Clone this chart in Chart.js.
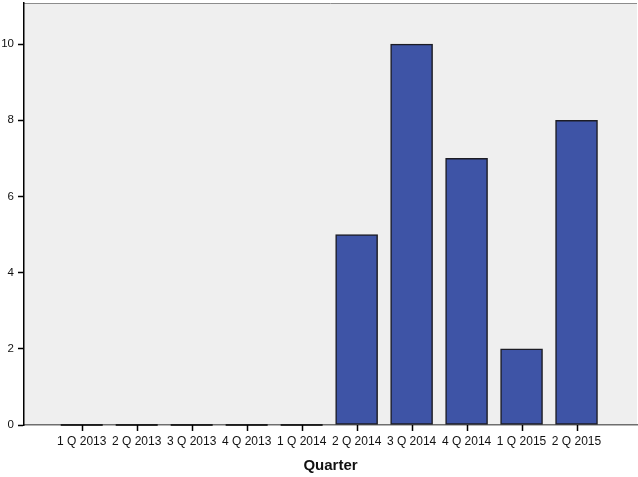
<!DOCTYPE html>
<html>
<head>
<meta charset="utf-8">
<script src="https://cdn.jsdelivr.net/npm/chart.js@4"></script>
<style>
  html, body { margin: 0; padding: 0; background: #fff; }
  #wrap { width: 638px; height: 477px; }
</style>
</head>
<body>
<div id="wrap"><canvas id="barChart"></canvas></div>
<script>
const categories = ['1 Q 2013', '2 Q 2013', '3 Q 2013', '4 Q 2013', '1 Q 2014',
                    '2 Q 2014', '3 Q 2014', '4 Q 2014', '1 Q 2015', '2 Q 2015'];
const counts = [0, 0, 0, 0, 0, 5, 10, 7, 2, 8];
const yTicks = [0, 2, 4, 6, 8, 10];

// fond gris + trait du haut, comme dans SPSS
const plotFrame = {
    id: 'plotFrame',
    beforeDraw(chart) {
        const {ctx, chartArea: a} = chart;
        ctx.save();
        ctx.fillStyle = '#efefef';
        ctx.fillRect(a.left, a.top, a.right - a.left, a.bottom - a.top);
        ctx.strokeStyle = '#8c8c8c';
        ctx.lineWidth = 1;
        ctx.beginPath();
        ctx.moveTo(a.left, a.top + 0.5);
        ctx.lineTo(a.right, a.top + 0.5);
        ctx.stroke();
        ctx.restore();
    },
    afterDraw(chart) {
        const {ctx, chartArea: a} = chart;
        const x = chart.scales.x;
        ctx.save();
        ctx.strokeStyle = '#000';
        ctx.lineWidth = 1.5;
        ctx.beginPath();
        // petits traits sous l'axe x, au centre de chaque barre
        categories.forEach((_, i) => {
            const px = Math.round(x.getPixelForValue(i)) + 0.5;
            ctx.moveTo(px, a.bottom);
            ctx.lineTo(px, a.bottom + 6);
        });
        // barres à zéro : seulement le contour, un trait sur l'axe
        chart.getDatasetMeta(0).data.forEach((bar, i) => {
            if (counts[i] === 0) {
                ctx.moveTo(bar.x - bar.width / 2, a.bottom);
                ctx.lineTo(bar.x + bar.width / 2, a.bottom);
            }
        });
        ctx.stroke();
        ctx.restore();
    }
};

const font = { family: 'Liberation Sans, Arial, sans-serif', size: 12 };

new Chart(document.getElementById('barChart'), {
    type: 'bar',
    data: {
        datasets: [{
            data: counts.map((v, i) => ({ x: i, y: v })),
            backgroundColor: '#3e54a6',
            borderColor: '#1c1c24',
            borderWidth: 1.5,
            borderSkipped: false,
            barThickness: 42
        }]
    },
    options: {
        responsive: true,
        maintainAspectRatio: false,
        animation: false,
        layout: { padding: { top: 3, right: 1, left: 0, bottom: 0 } },
        plugins: { legend: { display: false }, tooltip: { enabled: false } },
        scales: {
            x: {
                type: 'linear',
                offset: false,
                min: -1.05,
                max: 10.1,
                afterBuildTicks: s => { s.ticks = categories.map((_, i) => ({ value: i })); },
                afterFit: s => { s.height = 52; s.paddingLeft = 0; s.paddingRight = 0; },
                grid: { offset: false, drawOnChartArea: false, drawTicks: false, tickLength: 6 },
                border: { display: true, color: '#6e6e6e', width: 1.5 },
                ticks: {
                    color: '#111',
                    font: font,
                    padding: 9,
                    maxRotation: 0,
                    autoSkip: false,
                    callback: v => categories[v] ?? ''
                },
                title: {
                    display: true,
                    text: 'Quarter',
                    color: '#111',
                    font: { family: font.family, size: 15, weight: 'bold' },
                    padding: { top: 0, bottom: 2 }
                }
            },
            y: {
                min: 0,
                max: 11.08,
                afterBuildTicks: s => { s.ticks = yTicks.map(v => ({ value: v })); },
                afterFit: s => { s.width = 24; s.paddingTop = 0; s.paddingBottom = 0; },
                grid: { drawOnChartArea: false, drawTicks: true, tickLength: 6, color: '#000', tickWidth: 1.5 },
                border: { display: true, color: '#000', width: 1.5 },
                ticks: { color: '#111', font: { family: font.family, size: 11.5 }, padding: 4 }
            }
        }
    },
    plugins: [plotFrame]
});
</script>
</body>
</html>
